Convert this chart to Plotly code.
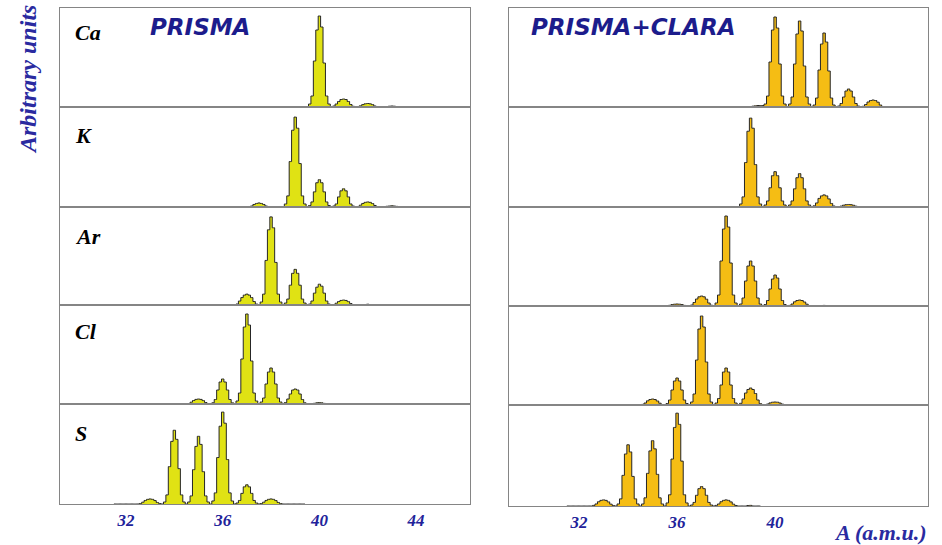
import plotly.graph_objects as go

# Mass spectra (counts in arbitrary units), histogram bins of 0.1 a.m.u.
# Each row holds the 10 bins centred at A-0.5, A-0.4, ..., A+0.4 for the mass A in the comment.
BIN = 0.1
elements = ["Ca", "K", "Ar", "Cl", "S"]

# ---------------- PRISMA alone ----------------
prisma_ca_first = 39
prisma_ca = [
    0, 0, 0, 0, 0, 0.5, 0.5, 0, 0, 0,                # 39
    0, 3, 11, 46, 77, 91, 80, 44, 11, 3,             # 40
    0, 1, 3, 5.5, 7.5, 8, 7.5, 5.5, 2.5, 0.7,        # 41
    0, 0.4, 1.2, 2.4, 3.2, 3.5, 3.2, 2.4, 1, 0.3,    # 42
    0, 0, 0, 0.4, 0.8, 1, 0.8, 0.4, 0, 0,            # 43
]

prisma_k_first = 36
prisma_k = [
    0, 0, 0, 0, 0, 0, 0, 0, 0, 0,                    # 36
    0, 0, 0, 0, 0, 0, 0.5, 1, 2.5, 3.5,              # 37
    4, 3.5, 2.5, 1, 0.5, 0, 0, 0, 0, 0.5,            # 38
    0, 3, 11, 45, 76, 89, 78, 43, 11, 3,             # 39
    0, 1.5, 5, 15, 24, 27, 24, 15, 5, 1.5,           # 40
    0, 1, 3, 10, 16, 18, 16, 10, 3, 1,               # 41
    0, 0.5, 1.8, 3.5, 4.6, 5, 4.6, 3.4, 1.5, 0.4,    # 42
    0, 0, 0.3, 0.7, 1, 1.2, 1, 0.6, 0.2, 0,          # 43
    0, 0, 0, 0, 0, 0, 0, 0, 0, 0,                    # 44
]

prisma_ar_first = 36
prisma_ar = [
    0, 0, 0, 0, 0, 0, 0, 0, 0, 0,                    # 36
    0, 1, 4, 7.5, 10, 11, 10, 7.5, 3.5, 1,           # 37
    0, 3, 11, 45, 76, 89, 78, 43, 11, 3,             # 38
    0, 2, 6, 20, 32, 36, 32, 20, 6, 2,               # 39
    0, 1, 4, 12, 18, 21, 19, 12, 4, 1,               # 40
    0, 0.5, 1.8, 3.5, 4.6, 5, 4.6, 3.4, 1.5, 0.4,    # 41
    0, 0, 0, 0, 0.5, 0.8, 0.5, 0, 0, 0,              # 42
]

prisma_cl_first = 35
prisma_cl = [
    0, 0.5, 1.8, 3.5, 4.6, 5, 4.6, 3.4, 1.5, 0.4,    # 35
    0, 1.2, 4.5, 14, 22, 25, 22, 14, 4.5, 1.2,       # 36
    0, 3, 11, 45, 77, 90, 79, 43, 11, 3,             # 37
    0, 2, 6, 20, 32, 36, 32, 20, 6, 2,               # 38
    0, 1.5, 5, 10, 14, 15, 14, 10, 4.5, 1.2,         # 39
    0, 0, 0.3, 0.7, 1.2, 1.5, 1.2, 0.6, 0.2, 0,      # 40
]

prisma_s_first = 32
prisma_s = [
    0, 0, 0, 0, 0, 0, 0, 0, 0, 0,                    # 32
    0, 0.5, 1.8, 3.5, 4.6, 5, 4.6, 3.4, 1.5, 0.4,    # 33
    0, 2, 9, 37, 62, 73, 64, 35, 9, 2,               # 34
    0, 2, 8, 34, 57, 67, 59, 32, 8, 2,               # 35
    0, 3, 11, 46, 77, 91, 80, 44, 11, 3,             # 36
    0, 1, 3.5, 10.5, 17, 19, 17, 10.5, 3.5, 1,       # 37
    0, 0.5, 1.8, 3.5, 4.6, 5, 4.6, 3.4, 1.5, 0.4,    # 38
    0, 0, 0, 0, 0, 0, 0, 0, 0, 0,                    # 39
]

# ---------------- PRISMA + CLARA ----------------
clara_ca_first = 38
clara_ca = [
    0, 0, 0, 0, 0, 0, 0, 0, 0, 0,                    # 38
    0, 0, 0, 0, 0, 0, 0.8, 1.2, 1.5, 1.5,            # 39
    1.5, 3, 11, 45, 77, 90, 79, 43, 11, 3,           # 40
    0, 3, 10, 43, 73, 86, 76, 41, 10, 3,             # 41
    0, 2, 9, 37, 63, 74, 65, 36, 9, 2,               # 42
    0, 1, 3.5, 10, 16, 18, 16, 10, 3.5, 1,           # 43
    0, 0.7, 2.5, 5, 6.5, 7, 6.5, 4.8, 2, 0.5,        # 44
    0, 0, 0, 0, 0, 0, 0, 0, 0, 0,                    # 45
]

clara_k_first = 38
clara_k = [
    0, 0, 0, 0, 0, 0, 0.3, 0.5, 0.5, 0.3,            # 38
    0, 3, 10, 44, 75, 88, 78, 42, 10, 3,             # 39
    0, 2, 6, 19, 31, 35, 31, 19, 6, 2,               # 40
    0, 2, 6, 18, 29, 33, 29, 18, 6, 2,               # 41
    0, 1.2, 4, 8.5, 11, 12, 11, 8, 3.5, 1,           # 42
    0, 0.3, 0.9, 1.8, 2.3, 2.5, 2.3, 1.7, 0.8, 0.2,  # 43
    0, 0, 0, 0, 0, 0, 0, 0, 0, 0,                    # 44
]

clara_ar_first = 36
clara_ar = [
    0, 0.2, 0.7, 1.4, 1.8, 2, 1.8, 1.4, 0.6, 0.2,    # 36
    0, 1, 3.5, 7, 9.2, 10, 9.2, 6.8, 3, 0.8,         # 37
    0, 3, 11, 45, 77, 90, 79, 43, 11, 3,             # 38
    0, 2, 8, 25, 40, 45, 40, 25, 8, 2,               # 39
    0, 1.5, 5.5, 17, 27, 31, 28, 17, 5.5, 1.5,       # 40
    0, 0.6, 2, 4.2, 5.5, 6, 5.5, 4, 1.8, 0.5,        # 41
    0, 0, 0, 0, 0.5, 0.6, 0, 0, 0, 0,                # 42
]

clara_cl_first = 35
clara_cl = [
    0, 0.6, 2, 4.2, 5.5, 6, 5.5, 4, 1.8, 0.5,        # 35
    0, 1.5, 5, 15, 24, 27, 24, 15, 5, 1.5,           # 36
    0, 3, 11, 45, 76, 89, 78, 43, 11, 3,             # 37
    0, 2, 6.5, 20, 33, 37, 33, 20, 6.5, 2,           # 38
    0, 1.7, 6, 12, 15.5, 17, 15.5, 11.5, 5, 1.4,     # 39
    0, 0.3, 1, 2.1, 2.8, 3, 2.8, 2, 0.9, 0.2,        # 40
]

clara_s_first = 32
clara_s = [
    0, 0, 0, 0, 0, 0, 0, 0, 0, 0,                    # 32
    0, 0.6, 2, 4.2, 5.5, 6, 5.5, 4, 1.8, 0.5,        # 33
    0, 2, 7, 30, 51, 60, 53, 29, 7, 2,               # 34
    0, 2, 8, 32, 54, 64, 56, 31, 8, 2,               # 35
    0, 3, 11, 46, 77, 91, 80, 44, 11, 3,             # 36
    0, 1, 3.5, 10.5, 17, 19, 17, 10.5, 3.5, 1,       # 37
    0, 0.6, 2, 4.2, 5.5, 6, 5.5, 4, 1.8, 0.5,        # 38
    0, 0, 0, 0, 0.5, 0.6, 0, 0, 0, 0,                # 39
]

left_ticks = [32, 36, 40, 44]
right_ticks = [32, 36, 40]

W, H = 942, 545

columns = [
    dict(
        title="PRISMA", title_x=200, color="#e0e214",
        xpx=(60, 470), xrange=[29.27, 46.23], rows=[8, 107, 207, 305, 404, 504],
        ticks=left_ticks,
        data=[(prisma_ca_first, prisma_ca), (prisma_k_first, prisma_k),
              (prisma_ar_first, prisma_ar), (prisma_cl_first, prisma_cl),
              (prisma_s_first, prisma_s)],
    ),
    dict(
        title="PRISMA+CLARA", title_x=633, color="#f5bd14",
        xpx=(509, 928), xrange=[29.14, 46.24], rows=[8, 107, 207, 306, 405, 506],
        ticks=right_ticks,
        data=[(clara_ca_first, clara_ca), (clara_k_first, clara_k),
              (clara_ar_first, clara_ar), (clara_cl_first, clara_cl),
              (clara_s_first, clara_s)],
    ),
]

BLUE = "#22229a"
FRAME = "#858585"

fig = go.Figure()
layout = dict(
    width=W, height=H,
    margin=dict(l=0, r=0, t=0, b=0),
    paper_bgcolor="white", plot_bgcolor="white",
    showlegend=False,
)

for c, col in enumerate(columns):
    xdom = [col["xpx"][0] / W, col["xpx"][1] / W]
    for i, (first, vals) in enumerate(col["data"]):
        n = c * 5 + i + 1
        sfx = "" if n == 1 else str(n)
        x0 = first - 0.5
        xs = [round(x0 + k * BIN, 2) for k in range(len(vals))]
        fig.add_trace(go.Scatter(
            x=xs, y=vals, xaxis="x" + sfx, yaxis="y" + sfx,
            mode="lines", line=dict(shape="hvh", color="#262626", width=1),
            fill="tozeroy", fillcolor=col["color"], hoverinfo="skip",
        ))
        top, bot = col["rows"][i], col["rows"][i + 1]
        bottom_row = i == len(col["data"]) - 1
        layout["xaxis" + sfx] = dict(
            domain=xdom, range=col["xrange"], anchor="y" + sfx,
            showline=True, mirror=True, linecolor=FRAME, linewidth=1.2,
            showgrid=False, zeroline=False, ticks="",
            tickvals=col["ticks"] if bottom_row else [],
            showticklabels=bottom_row,
            tickfont=dict(family="Liberation Serif", size=17, color=BLUE,
                          style="italic", weight="bold"),
            ticklabelstandoff=0,
        )
        layout["yaxis" + sfx] = dict(
            domain=[1 - bot / H, 1 - top / H], range=[0, 99], anchor="x" + sfx,
            showline=True, mirror=True, linecolor=FRAME, linewidth=1.2,
            showgrid=False, zeroline=False, showticklabels=False, ticks="",
        )

annotations = []
# element names in the left column
label_y = [33, 135, 237, 331, 433]
for el, py in zip(elements, label_y):
    annotations.append(dict(
        text=el, x=73 / W, y=1 - py / H, xref="paper", yref="paper",
        xanchor="left", yanchor="middle", showarrow=False,
        font=dict(family="Liberation Serif", size=22, color="black",
                  style="italic", weight="bold"),
    ))
# column titles
for col in columns:
    annotations.append(dict(
        text=col["title"], x=col["title_x"] / W, y=1 - 27 / H,
        xref="paper", yref="paper", xanchor="center", yanchor="middle",
        showarrow=False,
        font=dict(family="DejaVu Sans", size=23, color="#1c1c8c",
                  style="italic", weight="bold"),
    ))
annotations.append(dict(
    text="Arbitrary units", x=28 / W, y=1 - 80 / H, xref="paper", yref="paper",
    xanchor="center", yanchor="middle", textangle=-90, showarrow=False,
    font=dict(family="Liberation Serif", size=24, color="#2a2aa0",
              style="italic", weight="bold"),
))
annotations.append(dict(
    text="A (a.m.u.)", x=880 / W, y=1 - 532 / H, xref="paper", yref="paper",
    xanchor="center", yanchor="middle", showarrow=False,
    font=dict(family="Liberation Serif", size=22, color="#2a2aa0",
              style="italic", weight="bold"),
))
layout["annotations"] = annotations

fig.update_layout(**layout)
fig.write_html("out.html")
